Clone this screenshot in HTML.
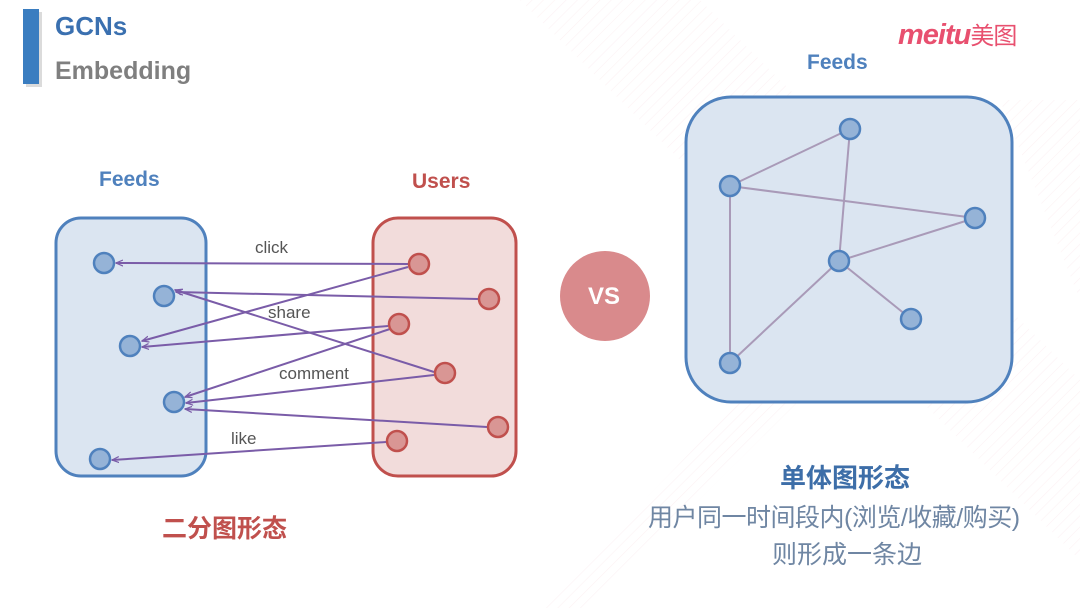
<!DOCTYPE html>
<html><head><meta charset="utf-8"><style>
html,body{margin:0;padding:0;background:#fff;}
body{width:1080px;height:608px;position:relative;overflow:hidden;font-family:"Liberation Sans","Noto Sans CJK SC",sans-serif;}
.t{position:absolute;white-space:nowrap;}
</style></head><body>
<svg width="1080" height="608" style="position:absolute;left:0;top:0">
<defs>
<pattern id="st" width="8" height="8" patternUnits="userSpaceOnUse" patternTransform="rotate(45)">
<line x1="0" y1="0" x2="0" y2="8" stroke="#f8e4e8" stroke-width="1.2"/>
</pattern>
<marker id="ar" markerWidth="8" markerHeight="8" refX="7" refY="4" orient="auto" markerUnits="userSpaceOnUse">
<path d="M0,1 L7,4 L0,7" fill="none" stroke="#7a5ca8" stroke-width="1.2"/>
</marker>
</defs>
<polygon points="520,0 700,0 1080,380 1080,560" fill="url(#st)" opacity="0.5"/>
<polygon points="540,608 760,380 820,380 590,608" fill="url(#st)" opacity="0.5"/>
<polygon points="1000,100 1080,100 1080,300" fill="url(#st)" opacity="0.5"/>
<!-- title bar -->
<rect x="26" y="12" width="16" height="75" fill="#b8b8b8" opacity="0.5"/>
<rect x="23" y="9" width="16" height="75" fill="#3a7dc0"/>
<!-- left boxes -->
<rect x="56" y="218" width="150" height="258" rx="25" fill="#dbe5f1" stroke="#4f81bd" stroke-width="3"/>
<rect x="373" y="218" width="143" height="258" rx="25" fill="#f2dcdb" stroke="#c0504d" stroke-width="3"/>
<g stroke="#7a5ca8" stroke-width="2" fill="none" marker-end="url(#ar)">
<line x1="408" y1="264" x2="116" y2="263"/>
<line x1="408" y1="267" x2="142" y2="341"/>
<line x1="478" y1="299" x2="176" y2="292"/>
<line x1="388" y1="326" x2="142" y2="347"/>
<line x1="390" y1="329" x2="185" y2="397"/>
<line x1="434" y1="372" x2="175" y2="290"/>
<line x1="434" y1="375" x2="186" y2="403"/>
<line x1="487" y1="427" x2="185" y2="409"/>
<line x1="386" y1="442" x2="112" y2="460"/>
</g>
<g fill="#95b3d7" stroke="#4f81bd" stroke-width="2.5">
<circle cx="104" cy="263" r="10"/><circle cx="164" cy="296" r="10"/><circle cx="130" cy="346" r="10"/><circle cx="174" cy="402" r="10"/><circle cx="100" cy="459" r="10"/>
</g>
<g fill="#d99694" stroke="#c0504d" stroke-width="2.5">
<circle cx="419" cy="264" r="10"/><circle cx="489" cy="299" r="10"/><circle cx="399" cy="324" r="10"/><circle cx="445" cy="373" r="10"/><circle cx="498" cy="427" r="10"/><circle cx="397" cy="441" r="10"/>
</g>
<!-- VS -->
<circle cx="605" cy="296" r="45" fill="#d98a8c"/>
<!-- right graph -->
<rect x="686" y="97" width="326" height="305" rx="45" fill="#dbe5f1" stroke="#4f81bd" stroke-width="3"/>
<g stroke="#a99ab8" stroke-width="2">
<line x1="850" y1="129" x2="730" y2="186"/>
<line x1="850" y1="129" x2="839" y2="261"/>
<line x1="730" y1="186" x2="975" y2="218"/>
<line x1="839" y1="261" x2="975" y2="218"/>
<line x1="839" y1="261" x2="911" y2="319"/>
<line x1="839" y1="261" x2="730" y2="363"/>
<line x1="730" y1="186" x2="730" y2="363"/>
</g>
<g fill="#95b3d7" stroke="#4f81bd" stroke-width="2.5">
<circle cx="850" cy="129" r="10"/><circle cx="730" cy="186" r="10"/><circle cx="975" cy="218" r="10"/><circle cx="839" cy="261" r="10"/><circle cx="911" cy="319" r="10"/><circle cx="730" cy="363" r="10"/>
</g>
</svg>
<div class="t" style="left:55px;top:11px;font-size:26px;font-weight:bold;color:#3a70b0;">GCNs</div>
<div class="t" style="left:55px;top:57px;font-size:25px;font-weight:bold;color:#7f7f7f;">Embedding</div>
<div class="t" style="left:898px;top:16px;font-size:29px;font-weight:bold;font-style:italic;color:#e8506f;letter-spacing:-1px;">meitu<span style="font-style:normal;font-weight:normal;font-size:24px;">美图</span></div>
<div class="t" style="left:99px;top:168px;font-size:21px;font-weight:bold;color:#4f81bd;">Feeds</div>
<div class="t" style="left:412px;top:170px;font-size:21px;font-weight:bold;color:#c0504d;">Users</div>
<div class="t" style="left:807px;top:51px;font-size:21px;font-weight:bold;color:#4f81bd;">Feeds</div>
<div class="t" style="left:255px;top:238px;font-size:17px;color:#555;">click</div>
<div class="t" style="left:268px;top:303px;font-size:17px;color:#555;">share</div>
<div class="t" style="left:279px;top:364px;font-size:17px;color:#555;">comment</div>
<div class="t" style="left:231px;top:429px;font-size:17px;color:#555;">like</div>
<div class="t" style="left:588px;top:283px;font-size:24px;font-weight:bold;color:#fff;">VS</div>
<div class="t" style="left:162px;top:509px;font-size:25px;font-weight:bold;color:#c0504d;">二分图形态</div>
<div class="t" style="left:780px;top:458px;font-size:26px;font-weight:bold;color:#3d6ea8;">单体图形态</div>
<div class="t" style="left:648px;top:498px;font-size:25px;color:#6f86a3;letter-spacing:-0.5px;">用户同一时间段内(浏览/收藏/购买)</div>
<div class="t" style="left:772px;top:535px;font-size:25px;color:#6f86a3;">则形成一条边</div>
</body></html>
